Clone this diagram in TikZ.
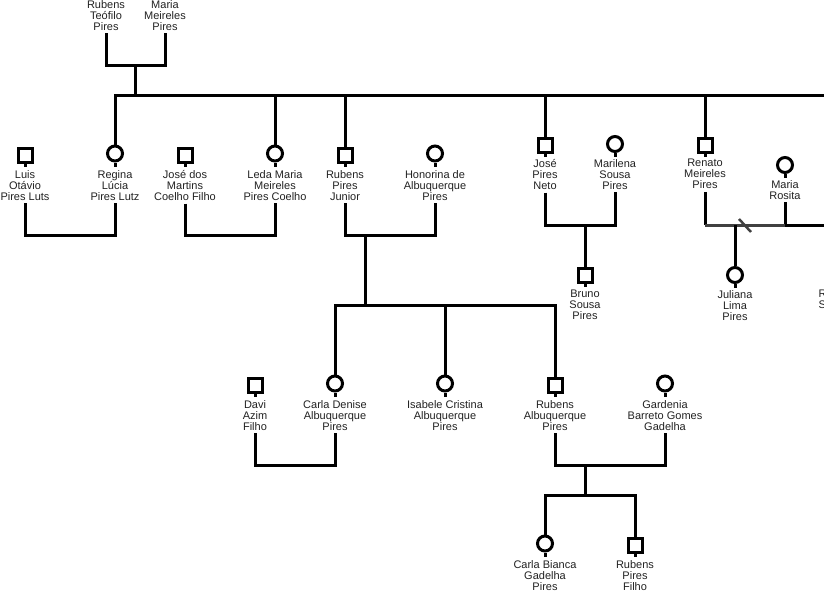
\documentclass[tikz,border=0pt]{standalone}
\usepackage{fontspec}
\setmainfont{Liberation Sans}
\definecolor{txt}{HTML}{222222}
\definecolor{sepgray}{HTML}{404040}
\begin{document}
\begin{tikzpicture}[x=1pt,y=-1pt,
  male/.style={draw, rectangle, line width=3pt, minimum size=14pt, inner sep=0pt},
  female/.style={draw, circle, line width=3pt, minimum size=15pt, inner sep=0pt},
  lbl/.style={anchor=north, inner sep=0pt, align=center, text=txt,
    font=\fontsize{11}{11}\selectfont,
    execute at begin node={\rule{0pt}{9pt}},
    execute at end node={\rule[-3pt]{0pt}{3pt}}},
  link/.style={line width=3pt}]
\useasboundingbox (0,0) rectangle (824,592);
\fill[white] (0,0) rectangle (824,592);

% ---------- generation 0 ----------
\node[lbl] (rtL) at (106,0) {Rubens\\Teófilo\\Pires};
\node[lbl] (mmL) at (165,0) {Maria\\Meireles\\Pires};

% ---------- generation 1 ----------
\node[male]   (luisS)  at (25,155) {};
\node[lbl]    (luisL)  at (25,170) {Luis\\Otávio\\Pires Luts};
\node[female] (regS)   at (115,153.5) {};
\node[lbl]    (regL)   at (115,170) {Regina\\Lúcia\\Pires Lutz};
\node[male]   (jmS)    at (185,155) {};
\node[lbl]    (jmL)    at (185,170) {José dos\\Martins\\Coelho Filho};
\node[female] (ledS)   at (275,153.5) {};
\node[lbl]    (ledL)   at (275,170) {Leda Maria\\Meireles\\Pires Coelho};
\node[male]   (rjS)    at (345,155) {};
\node[lbl]    (rjL)    at (345,170) {Rubens\\Pires\\Junior};
\node[female] (honS)   at (435,153.5) {};
\node[lbl]    (honL)   at (435,170) {Honorina de\\Albuquerque\\Pires};
\node[male]   (jnS)    at (545,145) {};
\node[lbl]    (jnL)    at (545,159) {José\\Pires\\Neto};
\node[female] (marS)   at (615,144) {};
\node[lbl]    (marL)   at (615,159) {Marilena\\Sousa\\Pires};
\node[male]   (renS)   at (705,145) {};
\node[lbl]    (renL)   at (705,159) {Renato\\Meireles\\Pires};
\node[female] (rosS)   at (785,165) {};
\node[lbl]    (rosL)   at (785,180) {Maria\\Rosita};

% ---------- generation 2 ----------
\node[male]   (bruS)   at (585,275) {};
\node[lbl]    (bruL)   at (585,290) {Bruno\\Sousa\\Pires};
\node[female] (julS)   at (735,275) {};
\node[lbl]    (julL)   at (735,290) {Juliana\\Lima\\Pires};
\node[lbl, anchor=north west, align=left] (rsL) at (818.5,290) {R\\S};

\node[male]   (davS)   at (255,385) {};
\node[lbl]    (davL)   at (255,400) {Davi\\Azim\\Filho};
\node[female] (cdS)    at (335,383.5) {};
\node[lbl]    (cdL)    at (335,400) {Carla Denise\\Albuquerque\\Pires};
\node[female] (isaS)   at (445,383.5) {};
\node[lbl]    (isaL)   at (445,400) {Isabele Cristina\\Albuquerque\\Pires};
\node[male]   (raS)    at (555,385) {};
\node[lbl]    (raL)    at (555,400) {Rubens\\Albuquerque\\Pires};
\node[female] (garS)   at (665,383.5) {};
\node[lbl]    (garL)   at (665,400) {Gardenia\\Barreto Gomes\\Gadelha};

% ---------- generation 3 ----------
\node[female] (cbS)    at (545,543.5) {};
\node[lbl]    (cbL)    at (545,560) {Carla Bianca\\Gadelha\\Pires};
\node[male]   (rfS)    at (635,545) {};
\node[lbl]    (rfL)    at (635,560) {Rubens\\Pires\\Filho};

% ---------- junction coordinates ----------
\coordinate (c0) at (135,65);
\coordinate (s0) at (135,95);
\coordinate (e0) at (830,95);
\coordinate (m1) at (70,235);
\coordinate (m2) at (230,235);
\coordinate (m3) at (365,235);
\coordinate (s3) at (365,305);
\coordinate (m4) at (585,225);
\coordinate (m5) at (735,225);
\coordinate (e1) at (830,225);
\coordinate (sl1) at (739,219);
\coordinate (sl2) at (751,232);
\coordinate (m6) at (585,465);
\coordinate (s6) at (585,495);
\coordinate (m7) at (295,465);

% ---------- symbol stubs ----------
\foreach \n in {luisS,jmS,rjS,jnS,renS,bruS,davS,raS,rfS}
  \draw[link] (\n.south) -- ++(0,3);
\foreach \n in {regS,ledS,honS,marS,rosS,julS,cdS,isaS,garS,cbS}
  \draw[link] (\n.south) -- ++(0,4);

% ---------- connectors ----------
\draw[link] (rtL.south) |- (c0) -| (mmL.south);
\draw[link] (c0) -- (s0);
\draw[link] (regS.north) |- (e0);
\foreach \n in {ledS,rjS,jnS,renS}
  \draw[link] (\n.north) -- (\n.north |- e0);

\draw[link] (luisL.south) |- (m1) -| (regL.south);
\draw[link] (jmL.south) |- (m2) -| (ledL.south);
\draw[link] (rjL.south) |- (m3) -| (honL.south);
\draw[link] (m3) -- (s3);
\draw[link] (cdS.north) |- (s3) -| (raS.north);
\draw[link] (isaS.north) -- (isaS.north |- s3);

\draw[link] (jnL.south) |- (m4) -| (marL.south);
\draw[link] (m4) -- (bruS.north);

\draw[link] (renL.south) -- (renL.south |- m5);
\draw[link] (rosL.south) -- (rosL.south |- m5) -- (e1);
\draw[link, color=sepgray] (renL.south |- m5) -- (rosL.south |- m5);
\draw[link] (m5) -- (julS.north);
\draw[line width=2.5pt, color=sepgray] (sl1) -- (sl2);

\draw[link] (davL.south) |- (m7) -| (cdL.south);
\draw[link] (raL.south) |- (m6) -| (garL.south);
\draw[link] (m6) -- (s6);
\draw[link] (cbS.north) |- (s6) -| (rfS.north);
\end{tikzpicture}
\end{document}
